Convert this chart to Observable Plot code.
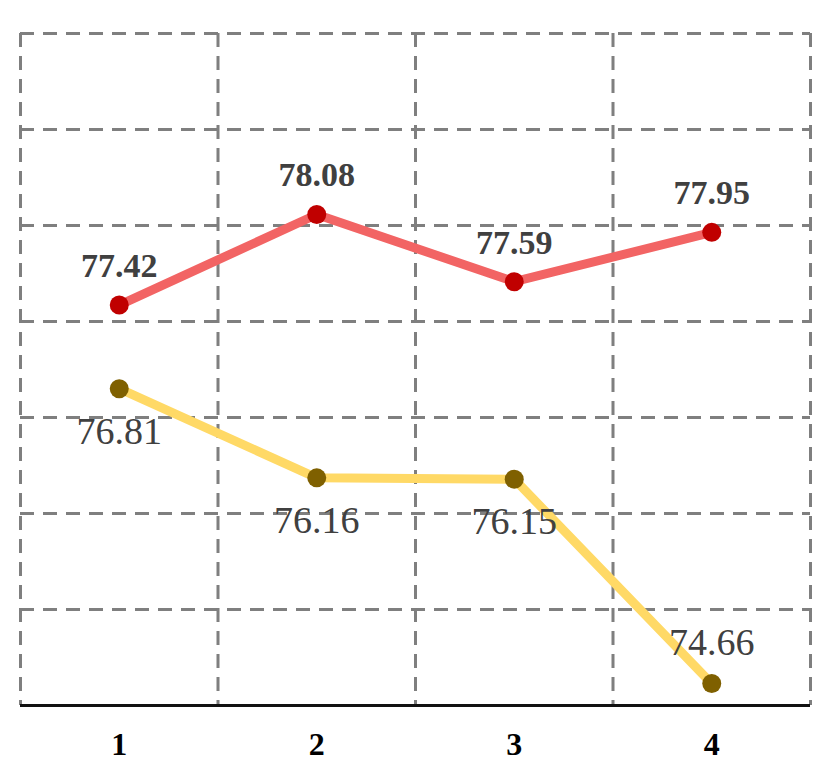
<!DOCTYPE html>
<html>
<head>
<meta charset="utf-8">
<script src="https://cdn.jsdelivr.net/npm/d3@7"></script>
<script src="https://cdn.jsdelivr.net/npm/@observablehq/plot@0.6"></script>
<style>
  html, body { margin: 0; padding: 0; background: #fff; }
  #chart svg { display: block; }
  #chart svg text { font-family: "Liberation Serif", "Times New Roman", serif; }
</style>
</head>
<body>
<div id="chart"></div>
<script>
const categories = [1, 2, 3, 4];
const seriesTop = [77.42, 78.08, 77.59, 77.95];
const seriesBottom = [76.81, 76.16, 76.15, 74.66];
const yTicks = [74.5, 75.2, 75.9, 76.6, 77.3, 78.0, 78.7, 79.4];
const xBounds = [0.5, 1.5, 2.5, 3.5, 4.5];

const topData = categories.map((c, i) => ({x: c, y: seriesTop[i], label: seriesTop[i].toFixed(2)}));
const bottomData = categories.map((c, i) => ({x: c, y: seriesBottom[i], label: seriesBottom[i].toFixed(2), last: i === categories.length - 1}));

const font = "Liberation Serif";
const grid = {stroke: "#7F7F7F", strokeWidth: 3, strokeDasharray: "14,9", strokeOpacity: 1};

const chart = Plot.plot({
  width: 830,
  height: 763,
  marginTop: 33,
  marginLeft: 20,
  marginRight: 20,
  marginBottom: 58,
  x: {domain: [0.5, 4.5], axis: null},
  y: {domain: [74.5, 79.4], axis: null},
  marks: [
    Plot.ruleY(yTicks.slice(1), grid),
    Plot.ruleX(xBounds, grid),
    Plot.ruleY([74.5], {stroke: "#111", strokeWidth: 3}),
    Plot.axisX(categories, {tickSize: 0, tickPadding: 27, fontSize: 32, fontWeight: "bold", fontFamily: font, fill: "#000", tickFormat: d => String(d), label: null}),
    Plot.line(topData, {x: "x", y: "y", stroke: "#F26464", strokeWidth: 9}),
    Plot.line(bottomData, {x: "x", y: "y", stroke: "#FFD966", strokeWidth: 9}),
    Plot.dot(topData, {x: "x", y: "y", r: 9.5, fill: "#C00000", stroke: "none"}),
    Plot.dot(bottomData, {x: "x", y: "y", r: 9.5, fill: "#7F6000", stroke: "none"}),
    Plot.text(topData, {x: "x", y: "y", text: "label", dy: -39, fontSize: 34, fontWeight: "bold", fontFamily: font, fill: "#404040", lineAnchor: "middle"}),
    Plot.text(bottomData.filter(d => !d.last), {x: "x", y: "y", text: "label", dy: 43, fontSize: 38, fontFamily: font, fill: "#404040", lineAnchor: "middle"}),
    Plot.text(bottomData.filter(d => d.last), {x: "x", y: "y", text: "label", dy: -41, fontSize: 38, fontFamily: font, fill: "#404040", lineAnchor: "middle"})
  ]
});
document.getElementById("chart").appendChild(chart);
</script>
</body>
</html>
